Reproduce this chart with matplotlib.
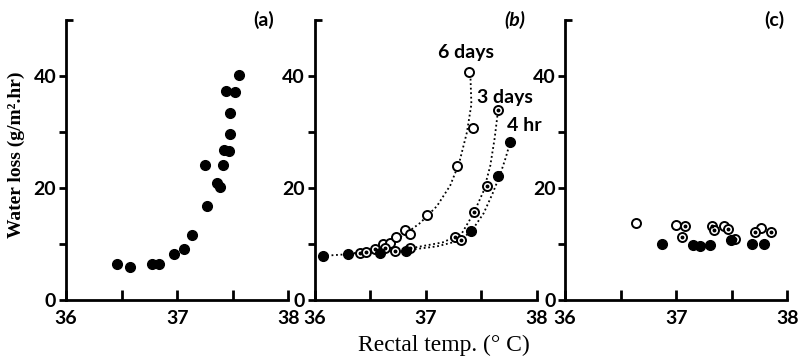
import matplotlib.pyplot as plt
from matplotlib.ticker import FixedLocator, NullFormatter

# ---- data ----
# (a) single series, filled circles
a_x = [36.46, 36.58, 36.77, 36.84, 36.97, 37.06, 37.13, 37.25, 37.27, 37.36,
       37.39, 37.41, 37.42, 37.47, 37.44, 37.52, 37.48, 37.48, 37.56]
a_y = [6.5, 6.0, 6.5, 6.4, 8.2, 9.1, 11.6, 24.2, 16.8, 20.9,
       20.2, 24.2, 26.8, 26.7, 37.4, 37.2, 33.4, 29.6, 40.2]

# (b) 6 days (open), 3 days (dotted circle), 4 hr (filled)
b6_x = [36.61, 36.68, 36.73, 36.81, 36.86, 37.01, 37.28, 37.42, 37.39]
b6_y = [10.1, 10.2, 11.2, 12.6, 11.8, 15.2, 23.9, 30.8, 40.8]
b3_x = [36.41, 36.46, 36.54, 36.63, 36.72, 36.86, 37.26, 37.32, 37.43, 37.55, 37.65]
b3_y = [8.45, 8.6, 9.1, 9.3, 8.8, 9.3, 11.3, 10.7, 15.8, 20.4, 33.9]
b4_x = [36.07, 36.30, 36.59, 36.82, 37.41, 37.65, 37.76]
b4_y = [7.9, 8.15, 8.45, 8.8, 12.3, 22.1, 28.3]

# hand-drawn dotted curves in (b)
c6_x = [36.07, 36.30, 36.50, 36.65, 36.80, 36.95, 37.10, 37.22, 37.30, 37.37, 37.41, 37.40]
c6_y = [7.9, 8.2, 8.9, 9.9, 11.6, 13.8, 16.8, 20.5, 24.5, 30.0, 35.0, 40.8]
c3_x = [36.30, 36.60, 36.90, 37.15, 37.32, 37.43, 37.52, 37.58, 37.62, 37.65]
c3_y = [8.2, 8.7, 9.4, 10.3, 11.8, 15.5, 19.5, 24.0, 29.0, 33.9]
c4_x = [36.86, 37.10, 37.30, 37.41, 37.52, 37.60, 37.67, 37.72, 37.76]
c4_y = [9.0, 9.6, 10.6, 12.3, 15.5, 19.0, 22.5, 25.5, 28.3]

# (c) open, dotted circle, filled
co_x = [36.64, 37.00, 37.43, 37.76]
co_y = [13.7, 13.5, 13.2, 12.9]
cd_x = [37.08, 37.05, 37.32, 37.34, 37.47, 37.53, 37.71, 37.85]
cd_y = [13.2, 11.3, 13.2, 12.6, 12.7, 11.0, 12.1, 12.1]
cf_x = [36.87, 37.15, 37.21, 37.30, 37.49, 37.68, 37.79]
cf_y = [10.0, 9.8, 9.7, 9.8, 10.8, 10.0, 10.1]

panel_labels = ['(a)', '(b)', '(c)']
x_major = [36, 37, 38]
x_minor = [36.5, 37.5]
y_major = [0, 20, 40]
y_minor = [10, 30]

tick_font = {'family': 'Lato', 'weight': 'bold', 'size': 14}

fig = plt.figure(figsize=(8.05, 3.62), dpi=100)
lefts = [0.082, 0.391, 0.702]
label_pos = [0.935, 0.95, 0.985]
axes = [fig.add_axes([l, 0.171, 0.276, 0.773]) for l in lefts]


def filled(ax, x, y):
    ax.plot(x, y, 'o', ms=7, mfc='black', mec='black', zorder=3)


def hollow(ax, x, y):
    ax.plot(x, y, 'o', ms=6.5, mfc='white', mec='black', mew=1.4, zorder=3)


def dotted(ax, x, y):
    ax.plot(x, y, 'o', ms=6.5, mfc='white', mec='black', mew=1.4, zorder=3)
    ax.plot(x, y, 'o', ms=1.8, mfc='black', mec='black', zorder=4)


for ax, lab, lx in zip(axes, panel_labels, label_pos):
    ax.set_xlim(36, 38)
    ax.set_ylim(0, 50)
    ax.spines['top'].set_visible(False)
    ax.spines['right'].set_visible(False)
    ax.spines['left'].set_linewidth(2)
    ax.spines['bottom'].set_linewidth(2)
    ax.xaxis.set_major_locator(FixedLocator(x_major))
    ax.xaxis.set_minor_locator(FixedLocator(x_minor))
    ax.yaxis.set_major_locator(FixedLocator(y_major))
    ax.yaxis.set_minor_locator(FixedLocator(y_minor))
    ax.xaxis.set_minor_formatter(NullFormatter())
    ax.tick_params(axis='x', which='both', direction='in', length=7, width=2, pad=7)
    ax.tick_params(axis='y', which='both', direction='out', length=5, width=2, pad=2)
    ax.set_xticklabels([str(v) for v in x_major], fontdict=tick_font)
    ax.set_yticklabels([str(v) for v in y_major], fontdict=tick_font)
    # small inward tick at the top of the y axis
    sec = ax.secondary_yaxis('left')
    sec.spines['left'].set_visible(False)
    sec.set_yticks([50])
    sec.set_yticklabels([''])
    sec.tick_params(direction='in', length=5, width=2)
    style = 'italic' if lab == '(b)' else 'normal'
    ax.text(lx, 1.0, lab, transform=ax.transAxes, ha='right', va='center',
            fontsize=14, fontweight='bold', style=style, family='Lato')

# (a)
filled(axes[0], a_x, a_y)

# (b)
axb = axes[1]
for cx, cy in [(c6_x, c6_y), (c3_x, c3_y), (c4_x, c4_y)]:
    axb.plot(cx, cy, linestyle=(0, (1, 1.5)), color='black', lw=1.3, zorder=2)
hollow(axb, b6_x, b6_y)
dotted(axb, b3_x, b3_y)
filled(axb, b4_x, b4_y)
lab_font = dict(fontsize=14, fontweight='bold', family='Lato', va='center')
axb.text(37.11, 44.3, '6 days', **lab_font)
axb.text(37.46, 36.2, '3 days', **lab_font)
axb.text(37.73, 31.2, '4 hr', **lab_font)

# (c)
axc = axes[2]
hollow(axc, co_x, co_y)
dotted(axc, cd_x, cd_y)
filled(axc, cf_x, cf_y)

fig.text(0.02, 0.572, 'Water loss (g/m².hr)', rotation=90, ha='center', va='center',
         fontsize=14, fontweight='bold', family='Liberation Serif')
fig.text(0.552, 0.045, 'Rectal temp. (° C)', ha='center', va='center',
         fontsize=17, family='Liberation Serif')

fig.savefig('out.png', dpi=100)
